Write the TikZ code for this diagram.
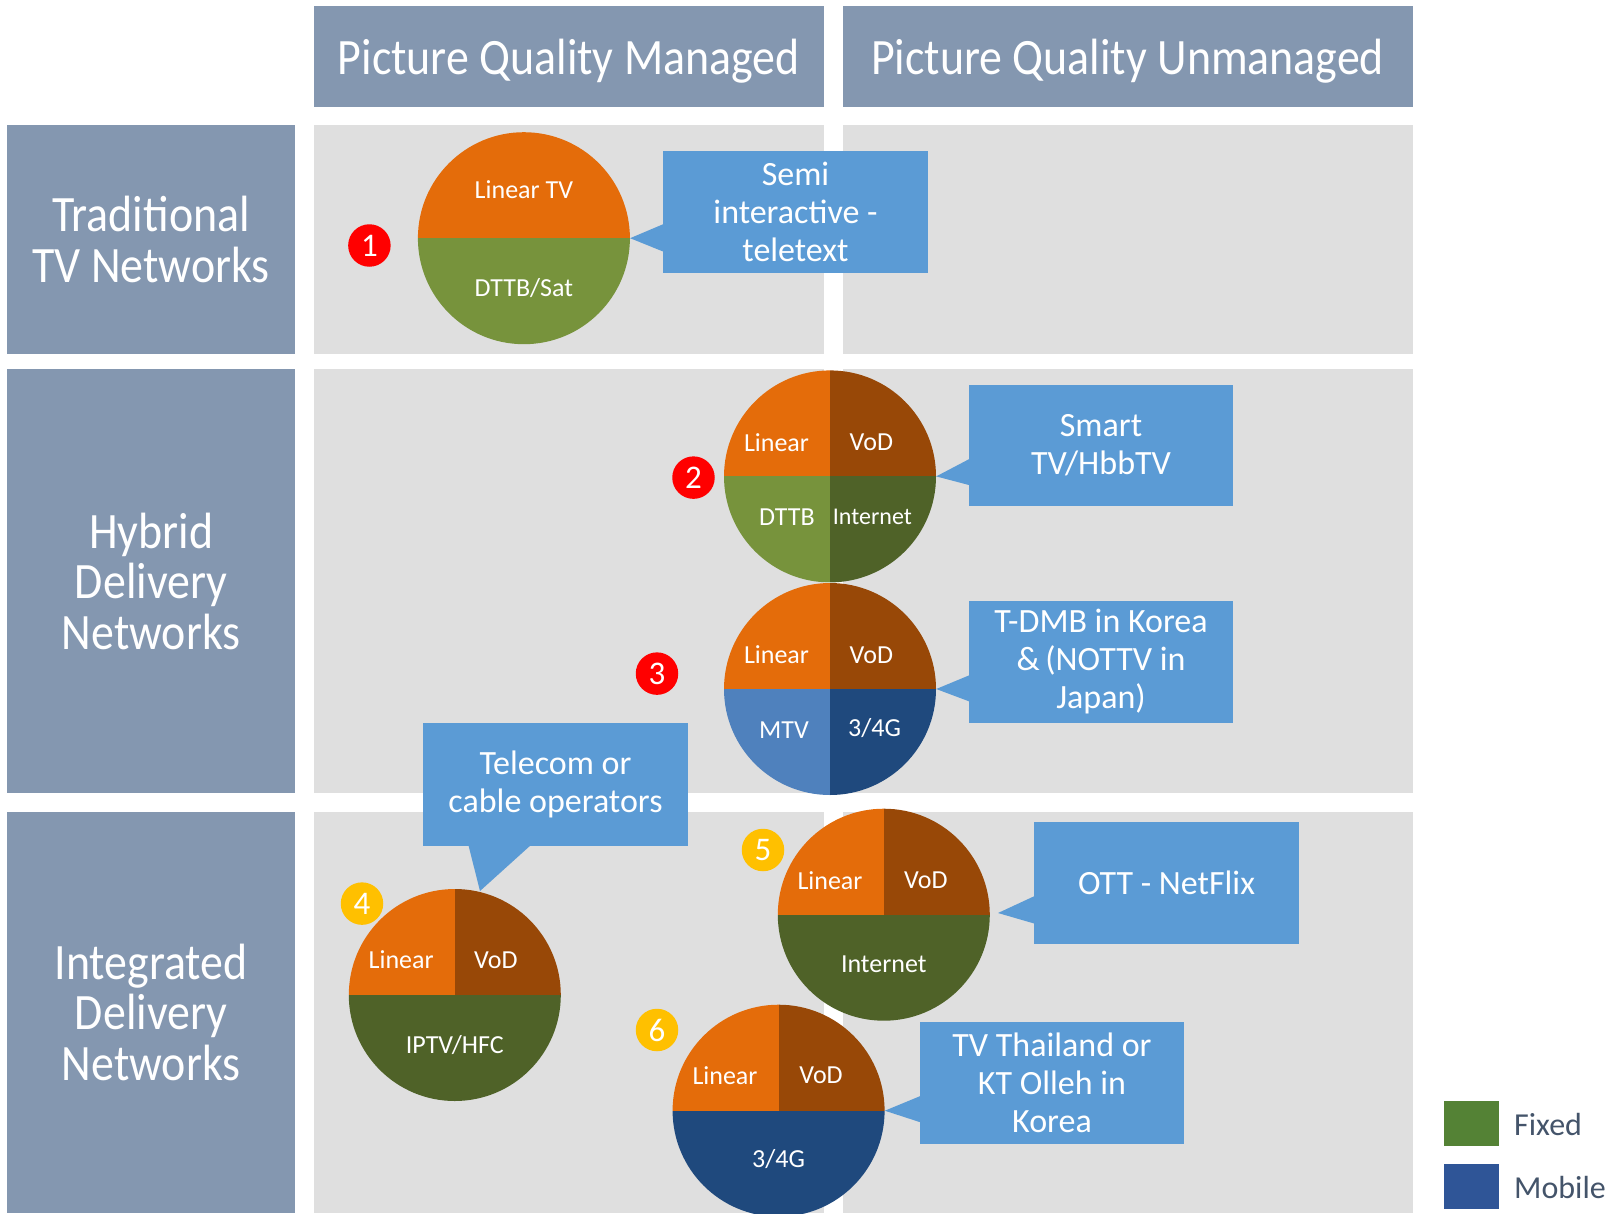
\documentclass[tikz,border=0pt]{standalone}
\usepackage{fontspec}
\setmainfont{Carlito}
\newfontfamily\hdrfont[FakeStretch=0.9]{Carlito}
\usetikzlibrary{calc}
\definecolor{slate}{HTML}{8497B0}
\definecolor{panelgrey}{HTML}{DFDFDF}
\definecolor{callblue}{HTML}{5B9BD5}
\definecolor{orng}{HTML}{E46C0A}
\definecolor{brwn}{HTML}{984807}
\definecolor{lgreen}{HTML}{77933C}
\definecolor{dgreen}{HTML}{4F6228}
\definecolor{mblue}{HTML}{4F81BD}
\definecolor{dblue}{HTML}{1F497D}
\definecolor{legreen}{HTML}{548235}
\definecolor{leblue}{HTML}{2F5597}
\definecolor{legtext}{HTML}{44546A}
\definecolor{bred}{HTML}{FF0000}
\definecolor{byellow}{HTML}{FFC000}
\begin{document}
\begin{tikzpicture}[x=1pt,y=-1pt,
  hdr/.style={fill=slate, text=white, font=\hdrfont\fontsize{51}{50.5}\selectfont, align=center, inner sep=0pt},
  panel/.style={fill=panelgrey},
  call/.style={fill=callblue, text=white, font=\fontsize{34}{38}\selectfont, align=center, inner sep=0pt},
  lbl/.style={text=white, font=\fontsize{26}{26}\selectfont, inner sep=0pt},
  badge/.style={circle, minimum size=42.5pt, inner sep=0pt, text=white, font=\fontsize{33}{33}\selectfont},
  pie/.style={circle, minimum size=212pt, inner sep=0pt},
  legtxt/.style={anchor=west, text=legtext, font=\fontsize{32}{32}\selectfont, inner sep=0pt},
]
\useasboundingbox (0,0) rectangle (1617,1213);

% grey matrix panels
\fill[panel] (313.5,124.8) rectangle (824,353.7);
\fill[panel] (842.5,124.8) rectangle (1412.8,353.7);
\fill[panel] (313.5,369.2) rectangle (824,793);
\fill[panel] (842.5,369.2) rectangle (1412.8,793);
\fill[panel] (313.5,811.6) rectangle (824,1213);
\fill[panel] (842.5,811.6) rectangle (1412.8,1213);

% column headers (baseline set 18pt below the box centre)
\node[hdr, minimum width=510.5pt, minimum height=101pt] (colA) at (568.75,56.6) {\raisebox{-18pt}[0pt][0pt]{Picture Quality Managed}};
\node[hdr, minimum width=570.3pt, minimum height=101pt] (colB) at (1127.65,56.6) {\raisebox{-18pt}[0pt][0pt]{Picture Quality Unmanaged}};

% row headers
\node[hdr, minimum width=287.8pt, minimum height=228.9pt] (rowA) at (151.1,239.25) {Traditional\\TV Networks};
\node[hdr, minimum width=287.8pt, minimum height=423.8pt] (rowB) at (151.1,581.1) {Hybrid\\Delivery\\Networks};
\node[hdr, minimum width=287.8pt, minimum height=401.4pt] (rowC) at (151.1,1012.3) {Integrated\\Delivery\\Networks};

% pie 1: two halves
\node[pie] (p1) at (523.9,238.2) {};
\begin{scope}
  \clip (p1.center) circle[radius=106pt];
  \fill[orng] (p1.center) ++(-110,0) rectangle ++(220,-110);
  \fill[lgreen] (p1.center) ++(-110,0) rectangle ++(220,110);
\end{scope}
\node[lbl] (p1a) at ([shift={(0,-48.5)}]p1.center) {Linear TV};
\node[lbl] (p1b) at ([shift={(0,49.5)}]p1.center) {DTTB/Sat};

% pie 2: four quadrants
\node[pie] (p2) at (830,476.4) {};
\begin{scope}
  \clip (p2.center) circle[radius=106pt];
  \fill[orng] (p2.center) rectangle ++(-110,-110);
  \fill[brwn] (p2.center) rectangle ++(110,-110);
  \fill[lgreen] (p2.center) rectangle ++(-110,110);
  \fill[dgreen] (p2.center) rectangle ++(110,110);
\end{scope}
\node[lbl] (p2a) at ([shift={(-53.5,-34)}]p2.center) {Linear};
\node[lbl] (p2b) at ([shift={(41.4,-34)}]p2.center) {VoD};
\node[lbl] (p2c) at ([shift={(-43,41)}]p2.center) {DTTB};
\node[lbl, font=\fontsize{24}{24}\selectfont] (p2d) at ([shift={(42.4,40)}]p2.center) {Internet};

% pie 3: four quadrants
\node[pie] (p3) at (830,689) {};
\begin{scope}
  \clip (p3.center) circle[radius=106pt];
  \fill[orng] (p3.center) rectangle ++(-110,-110);
  \fill[brwn] (p3.center) rectangle ++(110,-110);
  \fill[mblue] (p3.center) rectangle ++(-110,110);
  \fill[dblue] (p3.center) rectangle ++(110,110);
\end{scope}
\node[lbl] (p3a) at ([shift={(-53.5,-34)}]p3.center) {Linear};
\node[lbl] (p3b) at ([shift={(41.4,-34)}]p3.center) {VoD};
\node[lbl] (p3c) at ([shift={(-46,41)}]p3.center) {MTV};
\node[lbl] (p3d) at ([shift={(44.5,39)}]p3.center) {3/4G};

% pie 4
\node[pie] (p4) at (454.8,995) {};
\begin{scope}
  \clip (p4.center) circle[radius=106pt];
  \fill[orng] (p4.center) rectangle ++(-110,-110);
  \fill[brwn] (p4.center) rectangle ++(110,-110);
  \fill[dgreen] (p4.center) ++(-110,0) rectangle ++(220,110);
\end{scope}
\node[lbl] (p4a) at ([shift={(-53.6,-35)}]p4.center) {Linear};
\node[lbl] (p4b) at ([shift={(41,-35)}]p4.center) {VoD};
\node[lbl] (p4c) at ([shift={(0,49.6)}]p4.center) {IPTV/HFC};

% pie 5
\node[pie] (p5) at (883.8,914.7) {};
\begin{scope}
  \clip (p5.center) circle[radius=106pt];
  \fill[orng] (p5.center) rectangle ++(-110,-110);
  \fill[brwn] (p5.center) rectangle ++(110,-110);
  \fill[dgreen] (p5.center) ++(-110,0) rectangle ++(220,110);
\end{scope}
\node[lbl] (p5a) at ([shift={(-53.8,-34)}]p5.center) {Linear};
\node[lbl] (p5b) at ([shift={(42,-34)}]p5.center) {VoD};
\node[lbl] (p5c) at ([shift={(0,50)}]p5.center) {Internet};

% pie 6
\node[pie] (p6) at (778.6,1110.7) {};
\begin{scope}
  \clip (p6.center) circle[radius=106pt];
  \fill[orng] (p6.center) rectangle ++(-110,-110);
  \fill[brwn] (p6.center) rectangle ++(110,-110);
  \fill[dblue] (p6.center) ++(-110,0) rectangle ++(220,110);
\end{scope}
\node[lbl] (p6a) at ([shift={(-53.6,-35)}]p6.center) {Linear};
\node[lbl] (p6b) at ([shift={(42.4,-35)}]p6.center) {VoD};
\node[lbl] (p6c) at ([shift={(0,48.6)}]p6.center) {3/4G};

% numbered badges
\node[badge, fill=bred] (b1) at (369.4,245.5) {1};
\node[badge, fill=bred] (b2) at (693.5,477.6) {2};
\node[badge, fill=bred] (b3) at (657,673.6) {3};
\node[badge, fill=byellow] (b4) at (362,903.6) {4};
\node[badge, fill=byellow] (b5) at (763,850) {5};
\node[badge, fill=byellow] (b6) at (657,1030) {6};

% callouts
\node[call, minimum width=265pt, minimum height=122.7pt] (c1) at (795.5,212) {Semi\\interactive -\\teletext};
\fill[callblue] ([shift={(3,0)}]$(c1.north west)!0.59!(c1.south west)$) -- (p1.east) -- ([shift={(3,0)}]$(c1.north west)!0.83!(c1.south west)$) -- cycle;

\node[call, minimum width=264pt, minimum height=121.6pt] (c2) at (1101,445.5) {Smart\\TV/HbbTV};
\fill[callblue] ([shift={(3,0)}]$(c2.north west)!0.6!(c2.south west)$) -- (p2.east) -- ([shift={(3,0)}]$(c2.north west)!0.83!(c2.south west)$) -- cycle;

\node[call, minimum width=264pt, minimum height=122pt] (c3) at (1101,662) {T-DMB in Korea\\\&\,(NOTTV in\\Japan)};
\fill[callblue] ([shift={(3,0)}]$(c3.north west)!0.6!(c3.south west)$) -- (p3.east) -- ([shift={(3,0)}]$(c3.north west)!0.83!(c3.south west)$) -- cycle;

\node[call, minimum width=265pt, minimum height=123pt] (c4) at (555.5,784.5) {Telecom or\\cable operators};
\coordinate (t4) at (480,891);
\fill[callblue] ([shift={(0,-3)}]$(c4.south west)!0.17!(c4.south east)$) -- (t4) -- ([shift={(0,-3)}]$(c4.south west)!0.415!(c4.south east)$) -- cycle;

\node[call, minimum width=265pt, minimum height=121.6pt] (c5) at (1166.5,882.8) {OTT - NetFlix};
\coordinate (t5) at (998,913);
\fill[callblue] ([shift={(3,0)}]$(c5.north west)!0.6!(c5.south west)$) -- (t5) -- ([shift={(3,0)}]$(c5.north west)!0.84!(c5.south west)$) -- cycle;

\node[call, minimum width=264pt, minimum height=121.6pt] (c6) at (1052,1082.8) {TV Thailand or\\KT Olleh in\\Korea};
\fill[callblue] ([shift={(3,0)}]$(c6.north west)!0.6!(c6.south west)$) -- (p6.east) -- ([shift={(3,0)}]$(c6.north west)!0.83!(c6.south west)$) -- cycle;

% legend
\node[fill=legreen, minimum width=55.7pt, minimum height=44.3pt, inner sep=0pt] (lg1) at (1471.5,1123.5) {};
\node[legtxt] (lt1) at (1514,1124) {Fixed};
\node[fill=leblue, minimum width=55.7pt, minimum height=44.3pt, inner sep=0pt] (lg2) at (1471.5,1186.4) {};
\node[legtxt] (lt2) at (1514,1187) {Mobile};
\end{tikzpicture}
\end{document}
